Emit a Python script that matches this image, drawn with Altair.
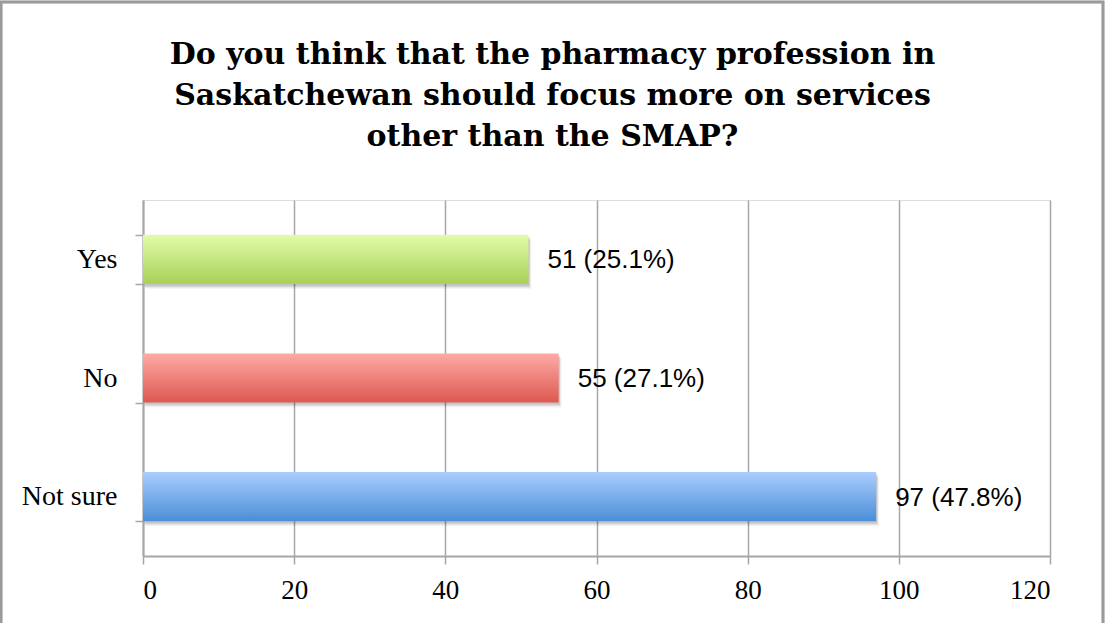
import altair as alt
import pandas as pd

categories = ["Yes", "No", "Not sure"]
counts = [51, 55, 97]
percents = ["25.1%", "27.1%", "47.8%"]
x_ticks = [0, 20, 40, 60, 80, 100, 120]

title_lines = [
    "Do you think that the pharmacy profession in",
    "Saskatchewan should focus more on services",
    "other than the SMAP?",
]

# gradient stops (top -> bottom) for each answer
gradients = {
    "Yes": ("#e2fca9", "#a8d058"),
    "No": ("#ffaaa6", "#dd5850"),
    "Not sure": ("#aacdfd", "#4a8ed8"),
}

df = pd.DataFrame({
    "answer": categories,
    "count": counts,
    "label": [f"{c} ({p})" for c, p in zip(counts, percents)],
})

GRID = "#a6a6a6"
SERIF = "Liberation Serif"
FRAME_TOP = -198  # outer frame top edge, relative to the plot area

x_enc = alt.X(
    "count:Q",
    scale=alt.Scale(domain=[0, 120], nice=False),
    axis=alt.Axis(
        values=x_ticks, title=None, grid=True, gridColor=GRID, gridWidth=1.5,
        domainColor=GRID, domainWidth=2, tickColor=GRID, tickWidth=1.5, tickSize=8,
        labelFont=SERIF, labelFontSize=27, labelColor="#000", labelPadding=13,
    ),
)
y_enc = alt.Y(
    "answer:N",
    sort=categories,
    scale=alt.Scale(paddingInner=0.585, paddingOuter=0.2925),
    axis=alt.Axis(
        title=None, tickBand="extent", grid=False,
        domainColor=GRID, domainWidth=2, tickColor=GRID, tickWidth=1.5, tickSize=8,
        labelFont=SERIF, labelFontSize=28, labelColor="#000", labelPadding=18,
    ),
)

base = alt.Chart(df)

# soft drop shadow under each bar
shadows = [
    base.mark_bar(color="#000", opacity=op, yOffset=dy, xOffset=dx).encode(
        x=x_enc, y=y_enc
    )
    for dy, dx, op in [(5, 3, 0.04), (4, 2, 0.05), (3, 1.5, 0.07), (2, 1, 0.08)]
]

bars = []
for cat in categories:
    top, bottom = gradients[cat]
    bars.append(
        base.transform_filter(alt.datum.answer == cat)
        .mark_bar(
            color=alt.Gradient(
                gradient="linear", x1=0, y1=0, x2=0, y2=1,
                stops=[alt.GradientStop(color=top, offset=0),
                       alt.GradientStop(color=bottom, offset=1)],
            )
        )
        .encode(x=x_enc, y=y_enc)
    )

labels = base.mark_text(
    align="left", baseline="middle", dx=19, dy=1,
    font="Liberation Sans", fontSize=26, color="#000",
).encode(x=x_enc, y=y_enc, text="label:N")

# outer chart frame
frame = base.mark_rect(
    fill=None, stroke="#9a9a9a", strokeWidth=2.5
).encode(
    x=alt.value(-142), x2=alt.value(960), y=alt.value(FRAME_TOP), y2=alt.value(470)
)

# the title is offset from the top of the group bounds (the frame edge),
# so a negative offset brings it back down inside the frame
title_gap = 17
chart = alt.layer(*shadows, *bars, labels, frame).properties(
    width=907,
    height=356,
    autosize=alt.AutoSizeParams(type="none"),
    padding={"left": 143, "top": 200, "right": 55, "bottom": 67},
    title=alt.TitleParams(
        text=title_lines, font="DejaVu Serif", fontSize=30, fontWeight="bold",
        lineHeight=41, color="#000", anchor="middle", baseline="bottom",
        dx=-44, offset=FRAME_TOP + title_gap,
    ),
).configure_view(stroke=None).configure(background="white")

chart.save("out.html", embed_options={"renderer": "svg", "actions": False})
